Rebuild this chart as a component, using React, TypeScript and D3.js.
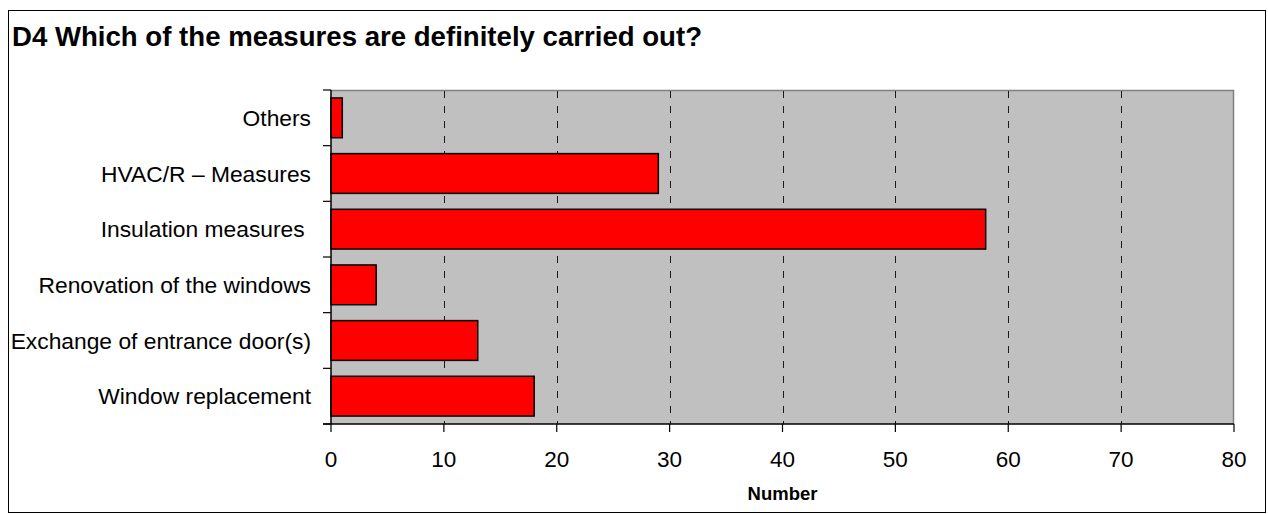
import React from "react";
import * as d3 from "d3";

// Survey answers, listed top to bottom as they appear on the chart
const categories: string[] = [
  "Others",
  "HVAC/R – Measures",
  "Insulation measures ",
  "Renovation of the windows",
  "Exchange of entrance door(s)",
  "Window replacement",
];
const counts: number[] = [1, 29, 58, 4, 13, 18];
const xTicks: number[] = [0, 10, 20, 30, 40, 50, 60, 70, 80];

const title = "D4 Which of the measures are definitely carried out?";
const xTitle = "Number";

const W = 1268;
const H = 514;
const plot = { left: 331, right: 1234, top: 90, bottom: 424 };
const font = "'Liberation Sans', Arial, sans-serif";

export default function App() {
  const x = d3.scaleLinear().domain([0, 80]).range([plot.left, plot.right]);
  const y = d3
    .scaleBand<string>()
    .domain(categories)
    .range([plot.top, plot.bottom])
    .paddingInner(0.2857)
    .paddingOuter(0.1429);
  const step = (plot.bottom - plot.top) / categories.length;
  const boundaries = d3.range(categories.length + 1).map((i) => plot.top + i * step);

  return (
    <svg
      width={W}
      height={H}
      style={{ position: "absolute", left: 0, top: 0, display: "block", background: "#fff" }}
    >
      {/* chart frame */}
      <rect x={8.5} y={10.5} width={1257} height={502} fill="#fff" stroke="#000" strokeWidth={1} />

      <text x={12} y={46} fontFamily={font} fontWeight="bold" fontSize={27.6} fill="#000">
        {title}
      </text>

      {/* plot area */}
      <rect
        x={plot.left}
        y={plot.top}
        width={plot.right - plot.left}
        height={plot.bottom - plot.top}
        fill="#C0C0C0"
      />
      <path
        d={`M${plot.left},${plot.top + 0.5}H${plot.right - 0.5}V${plot.bottom}`}
        fill="none"
        stroke="#808080"
        strokeWidth={1.5}
      />

      {/* vertical dashed gridlines */}
      {xTicks
        .filter((t) => t > 0 && t < 80)
        .map((t) => (
          <line
            key={`g${t}`}
            x1={Math.round(x(t)) + 0.5}
            x2={Math.round(x(t)) + 0.5}
            y1={plot.top + 1}
            y2={plot.bottom}
            stroke="#1a1a1a"
            strokeWidth={1}
            strokeDasharray="7,8"
          />
        ))}

      {/* bars */}
      {categories.map((c, i) => (
        <rect
          key={c}
          x={x(0)}
          y={y(c)!}
          width={x(counts[i]) - x(0)}
          height={y.bandwidth()}
          fill="#FF0000"
          stroke="#000"
          strokeWidth={1.5}
        />
      ))}

      {/* category axis */}
      <line x1={plot.left} x2={plot.left} y1={plot.top} y2={plot.bottom} stroke="#000" strokeWidth={1.5} />
      {boundaries.map((b, i) => (
        <line key={`yt${i}`} x1={plot.left - 8} x2={plot.left} y1={b} y2={b} stroke="#000" strokeWidth={1.2} />
      ))}
      {categories.map((c) => (
        <text
          key={`yl${c}`}
          x={311}
          y={y(c)! + y.bandwidth() / 2}
          dy="0.36em"
          textAnchor="end"
          fontFamily={font}
          fontSize={22.8}
          fill="#000"
          style={{ whiteSpace: "pre" }}
        >
          {c}
        </text>
      ))}

      {/* value axis */}
      <line x1={plot.left - 8} x2={plot.right} y1={plot.bottom} y2={plot.bottom} stroke="#000" strokeWidth={1.5} />
      {xTicks.map((t) => (
        <g key={`xt${t}`}>
          <line x1={x(t)} x2={x(t)} y1={plot.bottom} y2={plot.bottom + 8} stroke="#000" strokeWidth={1.2} />
          <text
            x={x(t)}
            y={467}
            textAnchor="middle"
            fontFamily={font}
            fontSize={22.5}
            fill="#000"
          >
            {t}
          </text>
        </g>
      ))}
      <text
        x={(plot.left + plot.right) / 2}
        y={500}
        textAnchor="middle"
        fontFamily={font}
        fontWeight="bold"
        fontSize={18.5}
        fill="#000"
      >
        {xTitle}
      </text>
    </svg>
  );
}
